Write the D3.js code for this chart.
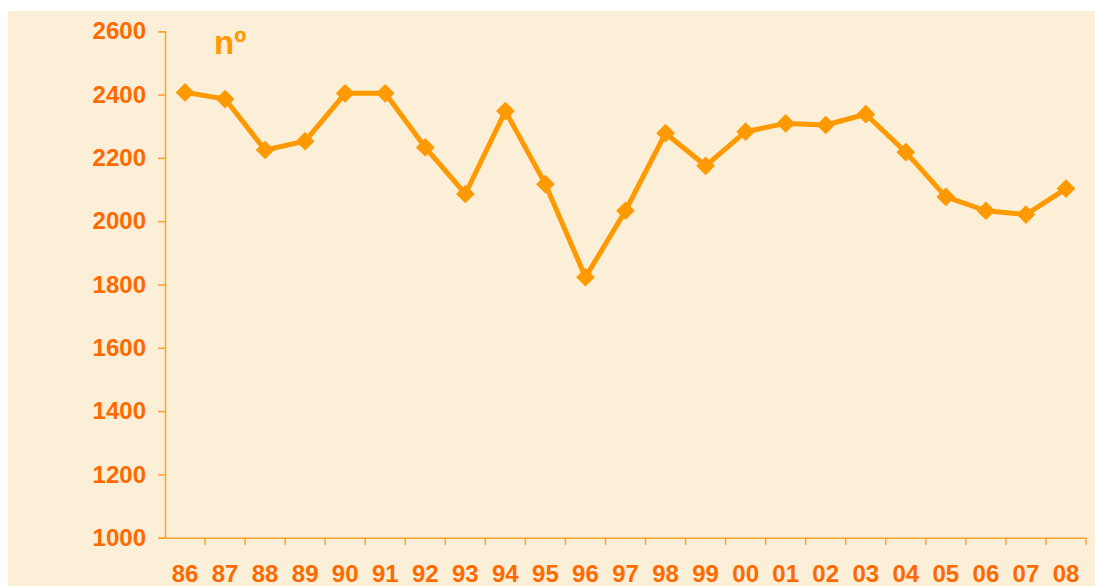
<!DOCTYPE html>
<html>
  <head>
    <meta charset="utf-8">
    <script src="https://cdn.jsdelivr.net/npm/d3@7"></script>
    <style>
      body { margin: 0; background: #ffffff; }
      svg { display: block; }
      .tick text { font-family: "Liberation Sans", Arial, sans-serif; font-weight: bold; }
    </style>
  </head>
  <body>
    <script>
      // Years along the bottom and the counted values for each
      var years = ["86", "87", "88", "89", "90", "91", "92", "93", "94", "95", "96", "97",
                   "98", "99", "00", "01", "02", "03", "04", "05", "06", "07", "08"];
      var counts = [2407, 2386, 2225, 2253, 2404, 2404, 2233, 2086, 2348, 2117, 1823, 2033,
                    2278, 2175, 2283, 2309, 2304, 2338, 2218, 2077, 2033, 2021, 2103];
      var yTicks = [1000, 1200, 1400, 1600, 1800, 2000, 2200, 2400, 2600];
      var unitLabel = "nº";

      var width = 1095, height = 586;
      var margin = {top: 31.3, left: 165, right: 9, bottom: 48.3};

      var svg = d3.select("body").append("svg")
        .attr("width", width).attr("height", height);

      // Cream paper background, starts a little in from the top left
      svg.append("rect").attr("x", 8).attr("y", 11)
        .attr("width", width - 8).attr("height", height - 11)
        .attr("fill", "#fcefd7");

      var x = d3.scaleBand().domain(years)
        .range([margin.left, width - margin.right]).padding(0);
      var y = d3.scaleLinear().domain([1000, 2600])
        .range([height - margin.bottom, margin.top]);

      // Y axis
      var yAxis = svg.append("g")
        .attr("transform", "translate(" + margin.left + ",0)")
        .call(d3.axisLeft(y).tickValues(yTicks).tickSize(7).tickPadding(12)
          .tickFormat(d3.format("d")));
      yAxis.select(".domain").attr("stroke", "#ffa22e").attr("stroke-width", 1.5);
      yAxis.selectAll(".tick line").attr("stroke", "#ffa22e").attr("stroke-width", 1.5);
      yAxis.selectAll(".tick text").attr("fill", "#ff6a00").style("font-size", "24px");

      // X axis: labels in the middle of each band, tick marks on the band edges
      var xAxis = svg.append("g")
        .attr("transform", "translate(0," + y(1000) + ")")
        .call(d3.axisBottom(x).tickSize(0).tickPadding(27));
      xAxis.select(".domain").attr("stroke", "#ffa22e").attr("stroke-width", 1.5);
      xAxis.selectAll(".tick text").attr("fill", "#ff6a00").style("font-size", "24px");

      var edges = years.map(function(d) { return x(d) + x.bandwidth(); });
      xAxis.selectAll(".edge").data(edges).enter().append("line")
        .attr("class", "edge")
        .attr("x1", function(d) { return d; }).attr("x2", function(d) { return d; })
        .attr("y1", 0).attr("y2", 7)
        .attr("stroke", "#ffa22e").attr("stroke-width", 1.5);

      // The line and its diamond markers
      var points = years.map(function(d, i) { return [d, counts[i]]; });
      var line = d3.line()
        .x(function(d) { return x(d[0]) + x.bandwidth() / 2; })
        .y(function(d) { return y(d[1]); });

      svg.append("path").datum(points)
        .attr("d", line)
        .attr("fill", "none")
        .attr("stroke", "#ff9900")
        .attr("stroke-width", 5)
        .attr("stroke-linejoin", "round");

      var diamond = d3.symbol().type(d3.symbolSquare).size(175);
      svg.selectAll(".marker").data(points).enter().append("path")
        .attr("class", "marker")
        .attr("d", diamond)
        .attr("transform", function(d) {
          return "translate(" + (x(d[0]) + x.bandwidth() / 2) + "," + y(d[1]) + ") rotate(45)";
        })
        .attr("fill", "#ff9900");

      // Unit label in the top left of the plot
      svg.append("text")
        .attr("x", 214).attr("y", 54)
        .attr("fill", "#ff9900")
        .style("font-family", "'Liberation Sans', Arial, sans-serif")
        .style("font-weight", "bold")
        .style("font-size", "33px")
        .text(unitLabel);
    </script>
  </body>
</html>
